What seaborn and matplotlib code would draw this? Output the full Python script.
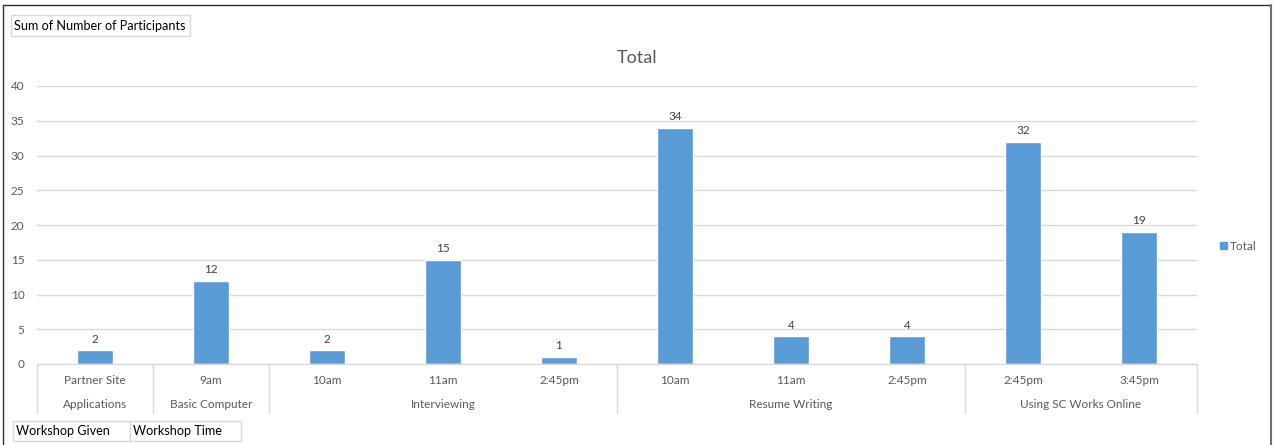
import matplotlib
matplotlib.use("Agg")
import matplotlib.pyplot as plt
import seaborn as sns
import pandas as pd
from matplotlib.patches import Rectangle, Patch
from matplotlib.lines import Line2D
from matplotlib.transforms import blended_transform_factory

# ---- data ----
groups = ["Applications", "Basic Computer", "Interviewing", "Resume Writing", "Using SC Works Online"]
group_sizes = [1, 1, 3, 3, 2]
times = ["Partner Site", "9am", "10am", "11am", "2:45pm", "10am", "11am", "2:45pm", "2:45pm", "3:45pm"]
values = [2, 12, 2, 15, 1, 34, 4, 4, 32, 19]

group_col = []
for g, n in zip(groups, group_sizes):
    group_col += [g] * n
df = pd.DataFrame({"group": group_col, "time": times, "value": values})
df["key"] = df["group"] + "|" + df["time"]

W, H = 1273, 445
sns.set_theme(style="white")
plt.rcParams["font.family"] = ["Lato", "DejaVu Sans"]

fig = plt.figure(figsize=(W / 100, H / 100), dpi=100)
fig.patch.set_facecolor("white")

x0, x1 = 37, 1197
y_top, y_bot = 86, 364
ax = fig.add_axes([x0 / W, (H - y_bot) / H, (x1 - x0) / W, (y_bot - y_top) / H])

BAR = "#5B9BD5"
GRID = "#D9D9D9"
TXT = "#595959"

sns.barplot(data=df, x="key", y="value", order=list(df["key"]), color=BAR,
            width=0.31, saturation=1, ax=ax, errorbar=None)

ax.set_ylim(0, 40)
ax.set_xlim(-0.5, len(df) - 0.5)
ax.set_yticks(range(0, 41, 5))
ax.yaxis.grid(True, color=GRID, linewidth=1)
ax.set_axisbelow(True)
for s in ["top", "right", "left"]:
    ax.spines[s].set_visible(False)
ax.spines["bottom"].set_color(GRID)
ax.spines["bottom"].set_linewidth(1)
ax.tick_params(axis="y", length=0, labelsize=8.5, labelcolor=TXT, pad=9)
ax.tick_params(axis="x", length=0)
ax.set_xticks([])
ax.set_xlabel("")
ax.set_ylabel("")

# data labels
for c in ax.containers:
    ax.bar_label(c, labels=[str(v) for v in values], padding=4, fontsize=8.5, color="#404040")

# category axis labels
tr = blended_transform_factory(ax.transData, ax.transAxes)
h_ax = y_bot - y_top
for i, t in enumerate(times):
    ax.text(i, -17 / h_ax, t, transform=tr, ha="center", va="center", fontsize=8.5, color=TXT, clip_on=False)
start = 0
seps = [0]
for g, n in zip(groups, group_sizes):
    center = start + (n - 1) / 2
    ax.text(center, -41 / h_ax, g, transform=tr, ha="center", va="center", fontsize=8.5, color=TXT, clip_on=False)
    start += n
    seps.append(start)
for s in seps:
    ax.add_line(Line2D([s - 0.5, s - 0.5], [0, -49 / h_ax], transform=tr, color=GRID, linewidth=1, clip_on=False))

# title
fig.text(637 / W, (H - 58) / H, "Total", ha="center", va="center", fontsize=13, color=TXT)

# legend
fig.legend(handles=[Patch(facecolor=BAR, edgecolor=BAR, label="Total")], loc="center left",
           bbox_to_anchor=(1209 / W, (H - 246) / H), frameon=False, fontsize=8.5,
           handlelength=0.6, handleheight=0.6, handletextpad=0.3, labelcolor=TXT)

# pivot field buttons
def button(xa, ya, xb, yb, text, fs):
    fig.add_artist(Rectangle((xa / W, (H - yb) / H), (xb - xa) / W, (yb - ya) / H,
                             transform=fig.transFigure, facecolor="white", edgecolor=GRID, linewidth=1))
    fig.text((xa + 3) / W, (H - (ya + yb) / 2) / H, text, ha="left", va="center", fontsize=fs, color="black")

button(11, 15, 190, 36, "Sum of Number of Participants", 9.1)
button(13, 421, 130, 441, "Workshop Given", 9.1)
button(130, 421, 241, 441, "Workshop Time", 9.1)

# outer border
fig.add_artist(Line2D([3 / W, 3 / W], [0, (H - 5) / H], transform=fig.transFigure, color="#303030", linewidth=1))
fig.add_artist(Line2D([3 / W, 1271 / W], [(H - 5) / H, (H - 5) / H], transform=fig.transFigure, color="#303030", linewidth=1))
fig.add_artist(Line2D([1271 / W, 1271 / W], [0, (H - 5) / H], transform=fig.transFigure, color="#707070", linewidth=1.5))

fig.savefig("out.png", dpi=100)
